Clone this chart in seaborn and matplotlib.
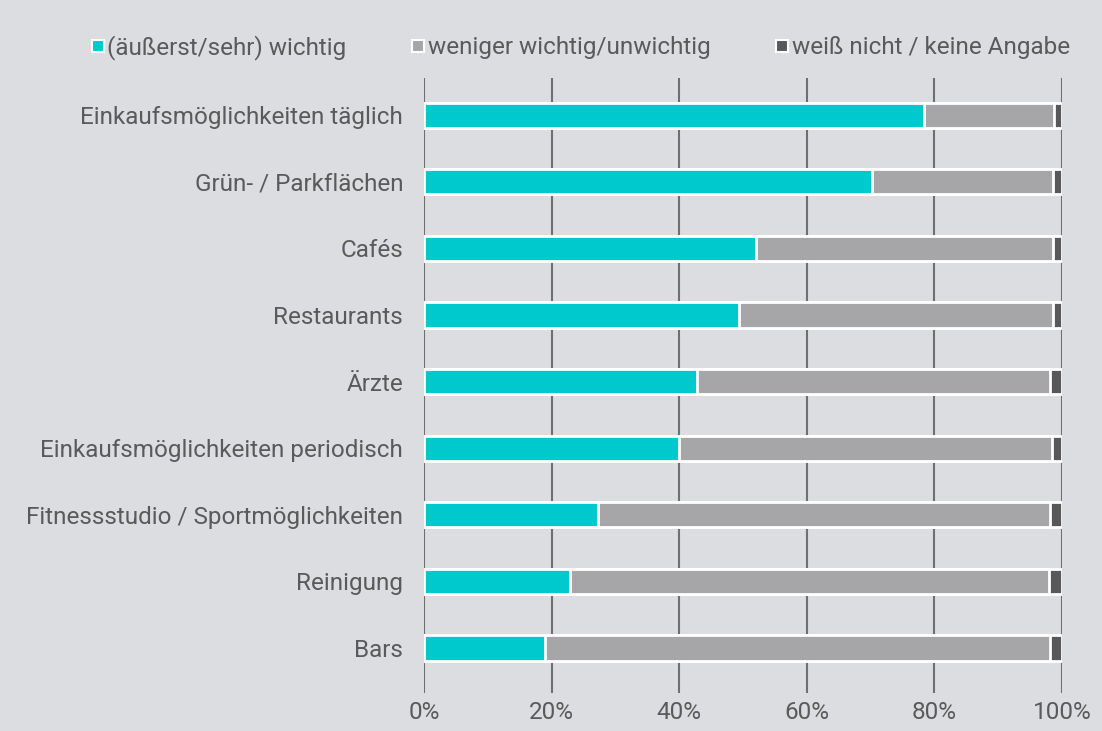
import matplotlib
matplotlib.use("Agg")
import matplotlib.pyplot as plt
from matplotlib.lines import Line2D
import seaborn as sns
import pandas as pd
import numpy as np

categories = [
    "Einkaufsmöglichkeiten täglich",
    "Grün- / Parkflächen",
    "Cafés",
    "Restaurants",
    "Ärzte",
    "Einkaufsmöglichkeiten periodisch",
    "Fitnessstudio / Sportmöglichkeiten",
    "Reinigung",
    "Bars",
]
wichtig = [78.4, 70.2, 52.0, 49.4, 42.8, 40.0, 27.2, 22.8, 19.0]
weiss_nicht = [1.3, 1.5, 1.4, 1.5, 1.9, 1.6, 1.9, 2.0, 1.9]
weniger = [round(100 - a - c, 1) for a, c in zip(wichtig, weiss_nicht)]

series_labels = ["(äußerst/sehr) wichtig", "weniger wichtig/unwichtig", "weiß nicht / keine Angabe"]
xticks = [0, 20, 40, 60, 80, 100]
xtick_labels = ["0%", "20%", "40%", "60%", "80%", "100%"]

BG = "#dcdde0"
C_CYAN = "#00c9cd"
C_GRAY = "#a6a6a9"
C_DARK = "#58585a"
TXT = "#5a5a5a"
FS = 17.5

sns.set_theme(style="white")
plt.rcParams["font.family"] = ["Roboto", "DejaVu Sans"]

df = pd.DataFrame({
    "cat": categories,
    "w": wichtig,
    "wg": np.array(wichtig) + np.array(weniger),
    "tot": np.array(wichtig) + np.array(weniger) + np.array(weiss_nicht),
})

fig = plt.figure(figsize=(11.02, 7.31), dpi=100, facecolor=BG)
ax = fig.add_axes([0.3848, 0.052, 0.579, 0.841])
ax.set_facecolor(BG)

common = dict(orient="h", width=0.38, edgecolor="white", linewidth=2, ax=ax, zorder=3)
sns.barplot(data=df, y="cat", x="tot", color=C_DARK, saturation=1, **common)
sns.barplot(data=df, y="cat", x="wg", color=C_GRAY, saturation=1, **common)
sns.barplot(data=df, y="cat", x="w", color=C_CYAN, saturation=1, **common)

ax.set_xlim(0, 100)
ax.set_ylim(8.675, -0.556)
ax.set_xticks(xticks)
ax.set_xticklabels(xtick_labels)
for x in xticks:
    ax.axvline(x, color="#6f6f71", linewidth=1.5, zorder=1)
ax.set_xlabel("")
ax.set_ylabel("")
for s in ax.spines.values():
    s.set_visible(False)
ax.tick_params(axis="both", length=0, labelsize=FS, labelcolor=TXT)
ax.tick_params(axis="y", pad=15)
ax.tick_params(axis="x", pad=6)

handles = [Line2D([], [], linestyle="none", marker="s", markersize=8,
                  markerfacecolor=c, markeredgecolor="white", markeredgewidth=1.5)
           for c in (C_CYAN, C_GRAY, C_DARK)]
leg = fig.legend(handles, series_labels, loc="center", bbox_to_anchor=(0.526, 0.935),
                 ncol=3, frameon=False, fontsize=FS, handletextpad=0.05,
                 columnspacing=2.6, handlelength=0.7, labelcolor=TXT)

fig.savefig("out.png", dpi=100, facecolor=BG)
